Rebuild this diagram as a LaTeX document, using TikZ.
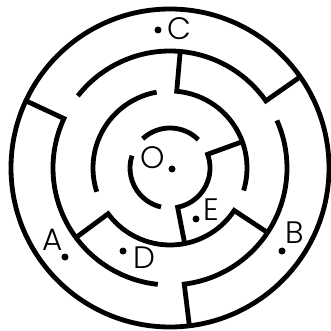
\documentclass[tikz,border=0pt]{standalone}
\usepackage{fontspec}
\setmainfont{Poppins}[UprightFont=* Light]
\usepackage{tikz}
\usetikzlibrary{positioning}

\begin{document}
\begin{tikzpicture}[
  x=1pt, y=1pt,
  every node/.style={font=\fontsize{31}{34}\selectfont},
  wall/.style={line width=4.8pt, line join=miter},
  spot/.style={circle, fill=black, inner sep=0pt, minimum size=7pt},
  lbl/.style ={inner sep=0pt}
]
  \useasboundingbox (-170,-163) rectangle (161,168);

  % rings
  \def\Rout{159} \def\Rtwo{117} \def\Rthree{77} \def\Rfour{40}
  \draw[wall] (0,0) circle[radius=\Rout];

  % second ring, with walls to the rim
  \draw[wall] (155:\Rout) -- (155:\Rtwo) arc[start angle=155, end angle=264, radius=\Rtwo];
  \draw[wall] (277:\Rout) -- (277:\Rtwo) arc[start angle=277, end angle=384, radius=\Rtwo];
  \draw[wall] (35:\Rout)  -- (35:\Rtwo)  arc[start angle=35,  end angle=142, radius=\Rtwo];

  % third ring
  \draw[wall] (216.5:\Rtwo) -- (216.5:\Rthree)
              arc[start angle=216.5, end angle=326.5, radius=\Rthree] -- (326.5:\Rtwo);
  \draw[wall] (85:\Rtwo) -- (85:\Rthree) arc[start angle=85, end angle=-17, radius=\Rthree];
  \draw[wall] (100:\Rthree) arc[start angle=100, end angle=198, radius=\Rthree];

  % inner ring
  \draw[wall] (281:\Rthree) -- (281:\Rfour)
              arc[start angle=281, end angle=380, radius=\Rfour] -- (20:\Rthree);
  \draw[wall] (45:\Rfour)  arc[start angle=45,  end angle=133, radius=\Rfour];
  \draw[wall] (162:\Rfour) arc[start angle=162, end angle=257, radius=\Rfour];

  % points
  \node[spot] (pC) at (-12,138) {};
  \node[lbl]  (C)  at (9,139)   {C};
  \node[spot] (pO) at (2,-1)    {};
  \node[lbl]  (O)  at (-17.5,10.5) {O};
  \node[spot] (pE) at (26,-51)  {};
  \node[lbl]  (E)  at (41,-41.5) {E};
  \node[spot] (pB) at (112,-83) {};
  \node[lbl]  (B)  at (125,-65) {B};
  \node[spot] (pA) at (-105,-89) {};
  \node[lbl]  (A)  at (-117,-72) {A};
  \node[spot] (pD) at (-47,-83) {};
  \node[lbl]  (D)  at (-25.5,-90) {D};
\end{tikzpicture}
\end{document}
